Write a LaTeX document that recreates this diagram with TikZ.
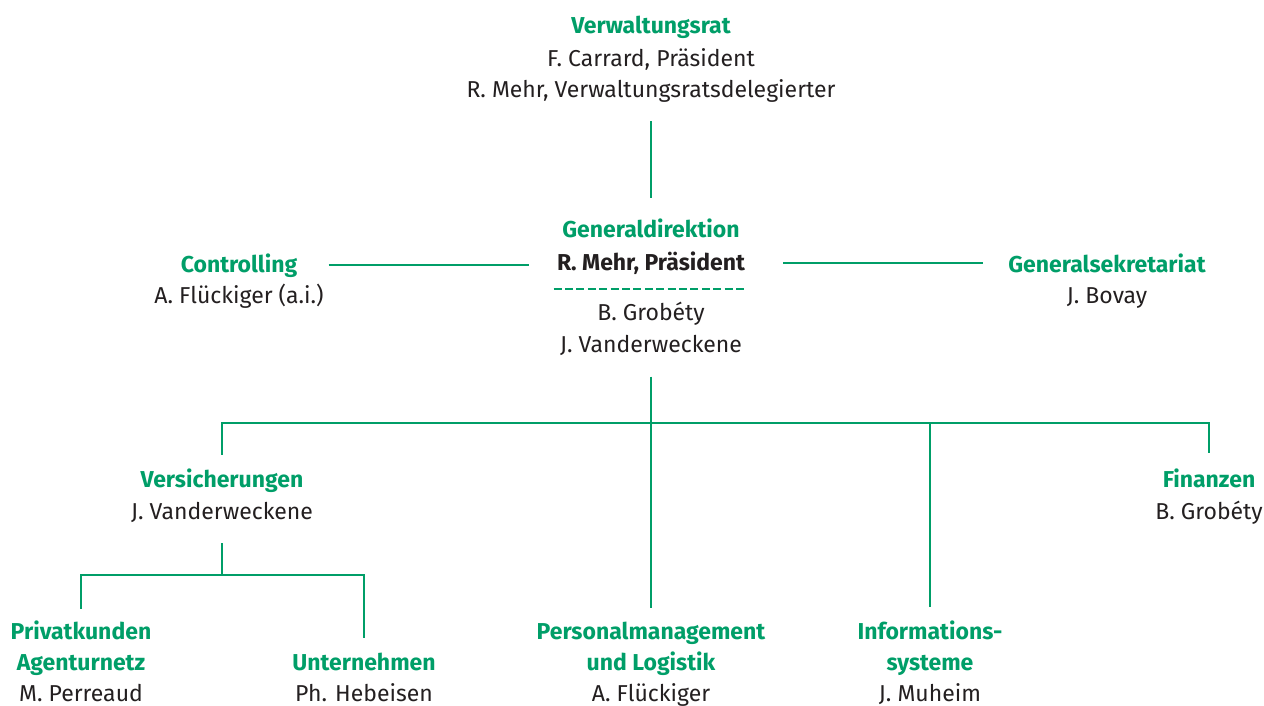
\documentclass[tikz,border=0pt]{standalone}
\usepackage{fontspec}
\setmainfont{Fira Sans}
\usepackage{xcolor}
\usetikzlibrary{positioning}
\definecolor{orggreen}{RGB}{0,158,104}
\definecolor{orgtext}{RGB}{35,31,32}

\begin{document}
\begin{tikzpicture}[x=0.5pt,y=-0.5pt,
  every node/.style={inner sep=0pt, align=center, text=orgtext, font=\fontsize{11.5}{16}\selectfont},
  unithead/.style={font=\fontsize{11.5}{15.5}\selectfont\bfseries, text=orggreen, anchor=base},
  person/.style={anchor=base},
  oneline/.style={text height=9pt, text depth=2pt},
  orgline/.style={draw=orggreen, line width=1.1pt},
  dashrule/.style={draw=orggreen, line width=1.3pt, dash pattern=on 4pt off 1.7pt}]
\useasboundingbox (0,0) rectangle (1264,706);
%%%%%%%%%%%%%%%%%%%%%%%%%%%%%%%%%%%%%
\node[unithead,oneline] (vr) at (651,34) {Verwaltungsrat};
\node[below=32pt of vr.base,person] (vrstaff) {F. Carrard, Präsident\\R. Mehr, Verwaltungsratsdelegierter};
%%%%%%%%%%%%%%%%%%%%%%%%%%%%%%%%%%%%%
\node[unithead,oneline] (gd) at (651,237) {Generaldirektion};
\node[below=16.5pt of gd.base,person,oneline,font=\fontsize{11.5}{16}\selectfont\bfseries] (gdname) {R. Mehr, Präsident};
\node[below=41pt of gdname.base,person] (gdstaff) {B. Grobéty\\J. Vanderweckene};
%%%%%%%%%%%%%%
\node[unithead,oneline] (ctrl) at (239,272) {Controlling};
\node[below=15.5pt of ctrl.base,person] (ctrlstaff) {A. Flückiger (a.i.)};
\node[unithead,oneline] (gs) at (1107,272) {Generalsekretariat};
\node[below=15.5pt of gs.base,person] (gsstaff) {J. Bovay};
%%%%%%%%%%%%%%%%%%%%%%%%%%%%%%%%%%%%%
\node[unithead,oneline] (vers) at (222,487) {Versicherungen};
\node[below=16pt of vers.base,person,oneline] (versstaff) {J. Vanderweckene};
\node[unithead,oneline] (fin) at (1209,487) {Finanzen};
\node[below=16pt of fin.base,person] (finstaff) {B. Grobéty};
%%%%%%%%%%%%%%%%%%%%%%%%%%%%%%%%%%%%%
\node[unithead] (priv) at (81,670) {Privatkunden\\Agenturnetz};
\node[below=15.5pt of priv.base,person] (privstaff) {M. Perreaud};
\node[unithead,oneline] (unt) at (364,670) {Unternehmen};
\node[below=15.5pt of unt.base,person] (untstaff) {Ph. Hebeisen};
\node[unithead] (pers) at (651,670) {Personalmanagement\\und Logistik};
\node[below=15.5pt of pers.base,person] (persstaff) {A. Flückiger};
\node[unithead] (info) at (930,670) {Informations-\\systeme};
\node[below=15.5pt of info.base,person] (infostaff) {J. Muheim};
%%%%%%%%%%%%%%
\coordinate (bar) at (651,423);
\coordinate (bar2) at (222,575);
%%%%%%%%%%%%%%%%%%%%%%%%%%%%%%%%%%%%%
\draw[orgline, shorten <=9pt, shorten >=10.5pt] (vrstaff) -- (gd);
\draw[orgline, shorten <=15.5pt, shorten >=14pt] (ctrl.east) -- (ctrl.east -| gdname.west);
\draw[orgline, shorten <=19pt, shorten >=12.5pt] (gdname.east) -- (gdname.east -| gs.west);
\draw[dashrule] ([xshift=-1.5pt,yshift=-9.5pt]gdname.base west) -- ([xshift=0.5pt,yshift=-9.5pt]gdname.base east);
%%%%%%%%%%%%%%
\draw[orgline, shorten <=10.5pt] (gdstaff) -- (bar);
\draw[orgline, shorten >=7pt] (bar) -| (vers);
\draw[orgline, shorten >=8pt] (bar) -| (fin);
\draw[orgline, shorten >=6.5pt] (bar) -- (pers);
\draw[orgline, shorten >=6.5pt] (bar -| info) -- (info);
%%%%%%%%%%%%%%
\draw[orgline, shorten <=10pt] (versstaff) -- (bar2);
\draw[orgline, shorten >=5.5pt] (bar2) -| (priv);
\draw[orgline, shorten >=7pt] (bar2) -| (unt);
\end{tikzpicture}
\end{document}
